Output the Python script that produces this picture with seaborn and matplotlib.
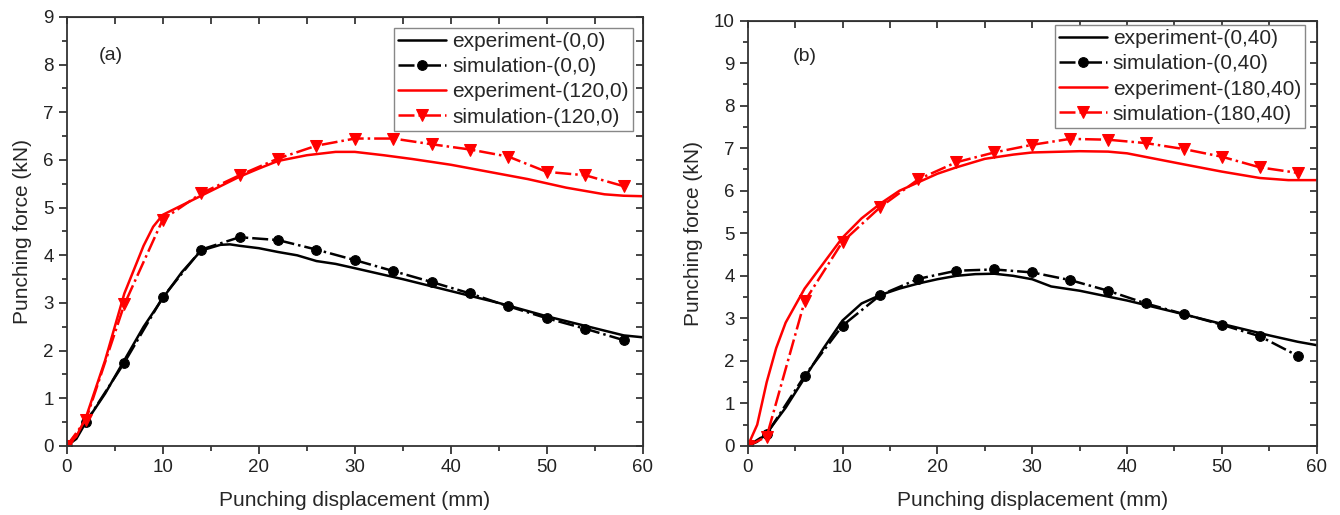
import numpy as np
import pandas as pd
import matplotlib
matplotlib.use("Agg")
import matplotlib.pyplot as plt
import seaborn as sns
from matplotlib.ticker import MultipleLocator

sns.set_style("ticks")
plt.rcParams['font.family'] = ['Liberation Sans', 'DejaVu Sans']

# (a) experiment / simulation curves
exp_a_x = [0, 1, 2, 4, 6, 8, 10, 12, 14, 16, 17, 18, 20, 22, 24, 26, 28, 30, 35, 40, 45, 50, 55, 58, 60]
exp_a_y = [0, 0.15, 0.5, 1.1, 1.8, 2.5, 3.1, 3.65, 4.1, 4.22, 4.23, 4.2, 4.15, 4.07, 4.0, 3.88, 3.82, 3.73,
           3.5, 3.25, 3.0, 2.72, 2.47, 2.32, 2.28]
sim_x = [0, 2, 6, 10, 14, 18, 22, 26, 30, 34, 38, 42, 46, 50, 54, 58]
sim_a_y = [0, 0.5, 1.75, 3.12, 4.12, 4.38, 4.32, 4.12, 3.9, 3.67, 3.44, 3.2, 2.93, 2.68, 2.46, 2.22]
exp_a2_x = [0, 1, 2, 4, 6, 8, 9, 10, 12, 14, 16, 18, 20, 22, 25, 28, 30, 33, 36, 40, 44, 48, 52, 56, 58, 60]
exp_a2_y = [0, 0.2, 0.6, 1.8, 3.2, 4.2, 4.6, 4.85, 5.05, 5.25, 5.45, 5.65, 5.82, 5.98, 6.1, 6.17, 6.17,
            6.1, 6.02, 5.9, 5.75, 5.6, 5.42, 5.28, 5.25, 5.24]
sim_a2_y = [0, 0.55, 2.97, 4.75, 5.3, 5.68, 6.03, 6.3, 6.45, 6.45, 6.33, 6.22, 6.07, 5.75, 5.68, 5.45]

# (b)
exp_b_x = [0, 1, 2, 4, 6, 8, 10, 12, 14, 16, 18, 20, 22, 24, 26, 28, 30, 32, 35, 40, 45, 50, 55, 58, 60]
exp_b_y = [0, 0.1, 0.3, 0.9, 1.6, 2.3, 2.95, 3.35, 3.55, 3.7, 3.82, 3.92, 4.0, 4.04, 4.05, 4.0, 3.92,
           3.75, 3.65, 3.42, 3.15, 2.87, 2.6, 2.45, 2.37]
sim_b_y = [0, 0.28, 1.65, 2.83, 3.55, 3.93, 4.12, 4.15, 4.08, 3.9, 3.65, 3.35, 3.1, 2.85, 2.58, 2.12]
exp_b2_x = [0, 1, 2, 3, 4, 6, 8, 10, 12, 14, 16, 18, 20, 22, 25, 28, 30, 35, 38, 40, 43, 46, 50, 54, 57, 60]
exp_b2_y = [0, 0.5, 1.5, 2.3, 2.9, 3.7, 4.3, 4.9, 5.35, 5.7, 6.0, 6.2, 6.4, 6.55, 6.75, 6.85, 6.9, 6.93,
            6.92, 6.88, 6.75, 6.62, 6.45, 6.3, 6.25, 6.25]
sim_b2_y = [0, 0.22, 3.4, 4.8, 5.62, 6.27, 6.67, 6.9, 7.08, 7.22, 7.2, 7.12, 6.98, 6.8, 6.55, 6.42]

labels_a = ["experiment-(0,0)", "simulation-(0,0)", "experiment-(120,0)", "simulation-(120,0)"]
labels_b = ["experiment-(0,40)", "simulation-(0,40)", "experiment-(180,40)", "simulation-(180,40)"]

fig = plt.figure(figsize=(13.4, 5.15), dpi=100)
ax1 = fig.add_axes([0.0498, 0.134, 0.430, 0.833])
ax2 = fig.add_axes([0.558, 0.134, 0.4246, 0.826])


def draw(ax, ex1, ey1, sy1, ex2, ey2, sy2, labels, ymax, tag, tagpos, leg_anchor):
    sns.lineplot(x=ex1, y=ey1, ax=ax, color="black", lw=1.8, label=labels[0], sort=False)
    sns.lineplot(x=sim_x, y=sy1, ax=ax, color="black", lw=1.8, linestyle="-.", marker="o",
                 markersize=7, markeredgecolor="black", label=labels[1], sort=False)
    sns.lineplot(x=ex2, y=ey2, ax=ax, color="red", lw=1.8, label=labels[2], sort=False)
    sns.lineplot(x=sim_x, y=sy2, ax=ax, color="red", lw=1.8, linestyle="-.", marker="v",
                 markersize=8, markeredgecolor="red", label=labels[3], sort=False)
    ax.set_xlim(0, 60)
    ax.set_ylim(0, ymax)
    ax.xaxis.set_major_locator(MultipleLocator(10))
    ax.xaxis.set_minor_locator(MultipleLocator(5))
    ax.yaxis.set_major_locator(MultipleLocator(1))
    ax.yaxis.set_minor_locator(MultipleLocator(0.5))
    ax.tick_params(which="major", direction="out", length=6, width=1.2, labelsize=13.5, colors="#222222")
    ax.tick_params(which="minor", direction="out", length=3.5, width=1.2)
    for s in ax.spines.values():
        s.set_linewidth(1.3)
        s.set_color("#333333")
    # inward ticks on top and right like Origin
    top = ax.secondary_xaxis("top")
    top.xaxis.set_major_locator(MultipleLocator(10))
    top.xaxis.set_minor_locator(MultipleLocator(5))
    top.tick_params(which="both", direction="in", length=5, width=1.2, labeltop=False)
    right = ax.secondary_yaxis("right")
    right.yaxis.set_major_locator(MultipleLocator(1))
    right.yaxis.set_minor_locator(MultipleLocator(0.5))
    right.tick_params(which="both", direction="in", length=5, width=1.2, labelright=False)
    ax.set_xlabel("Punching displacement (mm)", fontsize=15, labelpad=11)
    ax.set_ylabel("Punching force (kN)", fontsize=15, labelpad=8)
    ax.text(tagpos[0], tagpos[1], tag, fontsize=14, ha="center", va="center")
    leg = ax.legend(loc="upper right", bbox_to_anchor=leg_anchor, fontsize=15, frameon=True,
                    fancybox=False, edgecolor="#888888", framealpha=1, borderpad=0.2,
                    labelspacing=0.3, handlelength=2.3, handletextpad=0.3, borderaxespad=0)
    leg.get_frame().set_linewidth(1.0)


draw(ax1, exp_a_x, exp_a_y, sim_a_y, exp_a2_x, exp_a2_y, sim_a2_y, labels_a, 9, "(a)", (4.6, 8.2),
     (0.983, 0.975))
draw(ax2, exp_b_x, exp_b_y, sim_b_y, exp_b2_x, exp_b2_y, sim_b2_y, labels_b, 10, "(b)", (6.0, 9.15),
     (0.98, 0.99))

fig.savefig("out.png", dpi=100)
